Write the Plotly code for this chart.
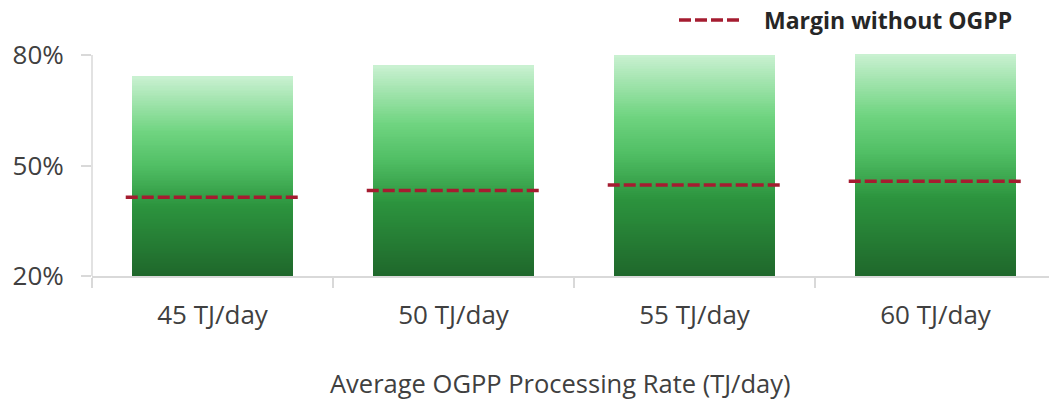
import plotly.graph_objects as go

# --- data ---
categories = ["45 TJ/day", "50 TJ/day", "55 TJ/day", "60 TJ/day"]
margin_with_ogpp = [74.2, 77.2, 80.1, 80.4]       # bar heights, %
margin_without_ogpp = [41.4, 43.2, 44.7, 45.7]    # dashed reference lines, %
y_ticks = [20, 50, 80]
y_tick_labels = ["20%", "50%", "80%"]

BASE = 20
N_SLICES = 120
BAR_WIDTH = 0.672
LINE_HALF = 0.36
RED = "#A51C30"
GRID = "#D9D9D9"
FONT = "Open Sans"

# vertical gradient stops (0 = bottom of bar, 1 = top)
stops = [
    (0.00, (31, 103, 43)),
    (0.35, (44, 148, 62)),
    (0.55, (80, 190, 100)),
    (0.72, (111, 212, 128)),
    (1.00, (202, 241, 210)),
]


def grad_color(t):
    for (t0, c0), (t1, c1) in zip(stops[:-1], stops[1:]):
        if t <= t1:
            f = (t - t0) / (t1 - t0)
            r, g, b = (round(a + (bb - a) * f) for a, bb in zip(c0, c1))
            return f"rgb({r},{g},{b})"
    r, g, b = stops[-1][1]
    return f"rgb({r},{g},{b})"


fig = go.Figure()

# each bar is layered from the bottom up: slice i spans from its own base
# to the bar top, so the later (lighter) slices cover the upper part
for i in range(N_SLICES):
    frac = i / N_SLICES
    bases = [BASE + (v - BASE) * frac for v in margin_with_ogpp]
    heights = [v - b for v, b in zip(margin_with_ogpp, bases)]
    fig.add_trace(go.Bar(
        x=categories, y=heights, base=bases, width=BAR_WIDTH,
        marker=dict(color=grad_color((i + 0.5) / N_SLICES), line=dict(width=0)),
        showlegend=False, hoverinfo="skip",
    ))

# dashed "margin without OGPP" lines on an overlaid numeric axis
for k, v in enumerate(margin_without_ogpp):
    fig.add_trace(go.Scatter(
        x=[k - LINE_HALF, k + LINE_HALF], y=[v, v], xaxis="x2",
        mode="lines", line=dict(color=RED, width=3.5, dash="12px,4px"),
        showlegend=False, hoverinfo="skip",
    ))

x_range = [-0.5, 3.471]
legend_y = 1 + (48 - 20) / 228

fig.update_layout(
    width=1049, height=400,
    margin=dict(l=92, r=0, t=48, b=124),
    paper_bgcolor="white", plot_bgcolor="white",
    barmode="overlay", bargap=0,
    font=dict(family=FONT, color="#404040", size=26),
    xaxis=dict(
        type="category", range=x_range, showgrid=False, zeroline=False,
        showline=True, linecolor=GRID, linewidth=1.5,
        ticks="outside", tickson="boundaries", ticklen=10, tickcolor=GRID,
        tickwidth=1.5, tickfont=dict(size=26, color="#404040"),
        ticklabelstandoff=15,
    ),
    xaxis2=dict(
        overlaying="x", range=x_range, visible=False, fixedrange=True,
    ),
    yaxis=dict(
        range=[BASE, 81.9], tickvals=y_ticks, ticktext=y_tick_labels,
        showgrid=False, zeroline=False, showline=False,
        ticks="outside", ticklen=10, tickcolor=GRID, tickwidth=1.5,
        tickfont=dict(size=26, color="#404040"), ticklabelstandoff=12,
    ),
    shapes=[
        # y axis line, only up to the top tick
        dict(type="line", xref="paper", yref="y", x0=0, x1=0, y0=BASE, y1=80,
             line=dict(color=GRID, width=1.5)),
        # legend swatch
        dict(type="line", xref="paper", yref="paper",
             x0=(679 - 92) / 957, x1=(742 - 92) / 957,
             y0=legend_y, y1=legend_y,
             line=dict(color=RED, width=3.5, dash="12px,4px")),
    ],
    annotations=[
        dict(text="Margin without OGPP", xref="paper", yref="paper",
             x=(762 - 92) / 957, y=legend_y, xanchor="left",
             yanchor="middle", showarrow=False,
             font=dict(family=FONT, size=23, color="#262626", weight="bold")),
        dict(text="Average OGPP Processing Rate (TJ/day)", xref="paper",
             yref="paper", x=(560 - 92) / 957, y=-(383 - 276.5) / 228,
             xanchor="center", yanchor="middle", showarrow=False,
             font=dict(family=FONT, size=25.5, color="#404040")),
    ],
)

fig.write_html("out.html")
